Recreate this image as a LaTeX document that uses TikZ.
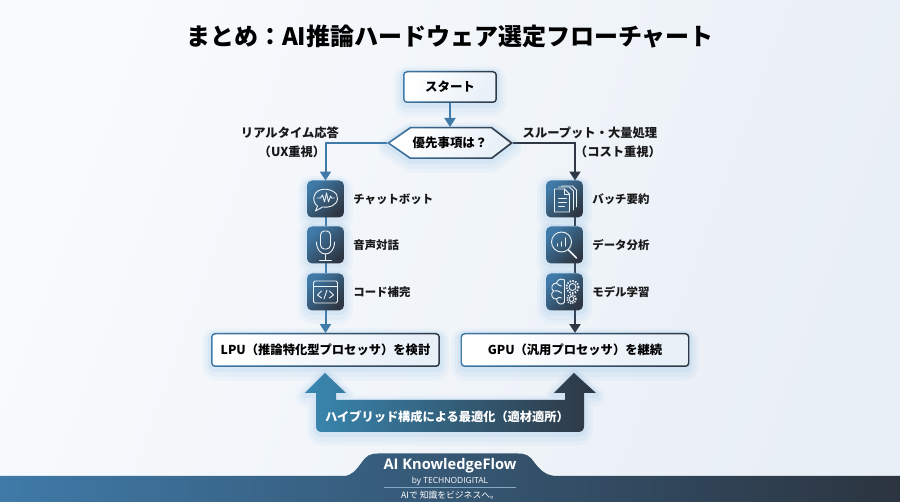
\documentclass[tikz,border=0pt]{standalone}
\usepackage{fontspec}
\setmainfont{Noto Sans CJK JP}
\newfontfamily\logofont{Open Sans}
\usetikzlibrary{arrows.meta,backgrounds}
\definecolor{flowblue}{HTML}{3F7AA8}
\definecolor{flowdark}{HTML}{2E3743}
\definecolor{flowglow}{HTML}{5B9FE0}
\definecolor{pagelight}{HTML}{F8FBFD}
\definecolor{pagetint}{HTML}{E9EFF6}
\definecolor{facetint}{HTML}{E8F0F8}
\newcommand{\px}{0.569pt}
\tikzset{
  glow/.style={
    preaction={draw=flowglow,opacity=.05,line width=18*\px,line join=round,transform canvas={yshift=-2.5pt}},
    preaction={draw=flowglow,opacity=.06,line width=12*\px,line join=round,transform canvas={yshift=-2pt}},
    preaction={draw=flowglow,opacity=.08,line width=6*\px,line join=round,transform canvas={yshift=-1pt}}},
  rim/.style={left color=flowblue,right color=flowdark,glow},
  face/.style={left color=white,right color=facetint,shading angle=60},
  flowbox/.style={rim,rectangle,rounded corners=4*\px,outer sep=0pt,inner sep=0pt},
  flowface/.style={face,rectangle,rounded corners=3*\px,outer sep=0pt,inner sep=0pt,font=\fontsize{7pt}{8pt}\selectfont\bfseries},
  hexlabel/.style={rectangle,minimum width=126*\px,minimum height=32*\px,outer sep=0pt,inner sep=0pt,font=\fontsize{7.1pt}{8pt}\selectfont\bfseries},
  tile/.style={rectangle,rounded corners=5*\px,minimum size=37*\px,inner sep=0pt,outer sep=0pt,left color=flowblue,right color=flowdark,shading angle=45,glow},
  item/.style={anchor=west,inner sep=0pt,font=\fontsize{6.5pt}{8pt}\selectfont\bfseries,text=black!90},
  branch/.style={inner sep=0pt,font=\fontsize{7pt}{8pt}\selectfont\bfseries,text=black!90},
  lefty/.style={draw=flowblue,line width=2*\px},
  righty/.style={draw=flowdark,line width=2*\px},
  tipped/.style={-{Triangle[length=9*\px,width=11*\px]}},
  glyph/.style={draw=white!90!flowblue,line width=0.9*\px,line cap=round,line join=round}
}
\begin{document}
\begin{tikzpicture}[x=0.02cm,y=-0.02cm]
  \path[use as bounding box] (0,0) rectangle (900,502);
  % Page.
  \begin{scope}[on background layer]
    \shade[left color=pagelight,right color=pagetint,shading angle=70] (0,0) rectangle (900,502);
  \end{scope}
  % Footer.
  \shade[left color=flowblue,right color=flowdark!95!black] (0,502) -- (0,476) -- (343,476) .. controls (352,476) and (356,470) .. (362,462) .. controls (366,456) and (370,453.5) .. (378,453.5) -- (518,453.5) .. controls (526,453.5) and (530,456) .. (534,462) .. controls (540,470) and (546,476) .. (557,476) -- (900,476) -- (900,502) -- cycle;
  \node[text=white,inner sep=0pt,font=\logofont\fontsize{8.35pt}{10pt}\selectfont\bfseries] (brand) at (450,466) {AI KnowledgeFlow};
  \node[text=white!90,inner sep=0pt,font=\logofont\fontsize{4.8pt}{6pt}\selectfont] (maker) at (450,481) {by TECHNODIGITAL};
  \coordinate (ruleleft) at (384,487);
  \coordinate (ruleright) at (516,487);
  \draw[white!35!flowblue,line width=0.4*\px] (ruleleft) -- (ruleright);
  \node[text=white!90,inner sep=0pt,font=\fontsize{5pt}{6pt}\selectfont] (motto) at (450,495) {AIで 知識をビジネスへ。};
  % Title.
  \node[inner sep=0pt,font=\fontsize{13.65pt}{16pt}\selectfont\bfseries] (title) at (450,37) {まとめ：AI推論ハードウェア選定フローチャート};
  % Start and question.
  \node[flowbox,minimum width=94*\px,minimum height=32*\px] (startrim) at (450,87) {};
  \node[flowface,minimum width=91*\px,minimum height=29*\px,font=\fontsize{7.1pt}{8pt}\selectfont\bfseries] (start) at (450,87) {スタート};
  \path[rim] (387,143) -- (410,127) -- (492,127) -- (513,143) -- (492,159) -- (410,159) -- cycle;
  \path[face] (390,143) -- (411,128.5) -- (491,128.5) -- (510,143) -- (491,157.5) -- (411,157.5) -- cycle;
  \node[hexlabel] (prio) at (450,143) {優先事項は？};
  \node[branch] (realtime) at (290,133) {リアルタイム応答};
  \node[branch] (ux) at (292,152) {（UX重視）};
  \node[branch] (through) at (590,133) {スループット・大量処理};
  \node[branch] (cost) at (618,152) {（コスト重視）};
  % Use cases.
  \node[tile] (chat) at (325.5,199) {};
  \node[tile] (voice) at (325.5,245) {};
  \node[tile] (code) at (325.5,292) {};
  \node[tile] (batch) at (564.5,199) {};
  \node[tile] (data) at (564.5,245) {};
  \node[tile] (model) at (564.5,292) {};
  \node[item] (chatname) at (353,199) {チャットボット};
  \node[item] (voicename) at (353,245) {音声対話};
  \node[item] (codename) at (353,292) {コード補完};
  \node[item] (batchname) at (592,199) {バッチ要約};
  \node[item] (dataname) at (592,245) {データ分析};
  \node[item] (modelname) at (592,292) {モデル学習};
  % Results.
  \node[flowbox,minimum width=229*\px,minimum height=34*\px] (lpurim) at (325.5,350) {};
  \node[flowface,minimum width=226*\px,minimum height=31*\px] (lpu) at (325.5,350) {LPU（推論特化型プロセッサ）を検討};
  \node[flowbox,minimum width=229*\px,minimum height=34*\px] (gpurim) at (575,350) {};
  \node[flowface,minimum width=226*\px,minimum height=31*\px] (gpu) at (575,350) {GPU（汎用プロセッサ）を継続};
  % Connectors.
  \begin{scope}[on background layer]
    \draw[lefty,tipped] (startrim) -- (prio);
    \draw[lefty,tipped] (prio.west) -| (chat.north);
    \draw[righty,tipped] (prio.east) -| (gpu.north |- batch.north);
    \draw[lefty] (chat) -- (voice);
    \draw[lefty] (voice) -- (code);
    \draw[lefty,tipped] (code) -- (lpurim);
    \draw[righty] (gpu.north |- batch.south) -- (gpu.north |- data.north);
    \draw[righty] (gpu.north |- data.south) -- (gpu.north |- model.north);
    \draw[righty,tipped] (gpu.north |- model.south) -- (gpurim);
  \end{scope}
  % Hybrid arrow.
  \path[glow,left color=flowblue!90!cyan,right color=flowdark] (325,373) -- (346,393) -- (336,393) -- (336,400) -- (565,400) -- (565,393) -- (554,393) -- (574,373) -- (596,393) -- (584,393) -- (584,426) .. controls (584,430) and (582,432) .. (578,432) -- (322,432) .. controls (318,432) and (316,430) .. (316,426) -- (316,393) -- (305,393) -- cycle;
  \node[text=white,inner sep=0pt,font=\fontsize{6.95pt}{8pt}\selectfont\bfseries] (hybrid) at (447,417) {ハイブリッド構成による最適化（適材適所）};
  % Icons.
  \begin{scope}[shift={(325.5,199)}]
    \draw[glyph] (-8,7) .. controls (-13,4) and (-14,-7) .. (-4,-9.5) .. controls (5,-11) and (13,-6) .. (12,0) .. controls (11,7) and (3,9) .. (-3,8) -- (-10,12) -- cycle;
    \draw[glyph] (-8,-1) -- (-5,-1) -- (-3,-4) -- (-1,3) -- (1,-6) -- (3,3) -- (5,-3) -- (6,-1) -- (9,-1);
  \end{scope}
  \begin{scope}[shift={(325.5,245)}]
    \draw[glyph,rounded corners=4*\px] (-5,-14) rectangle (5,4);
    \draw[glyph] (-9,-3) .. controls (-9,13) and (9,13) .. (9,-3);
    \draw[glyph] (0,9) -- (0,15);
    \draw[glyph] (-6,15) -- (6,15);
  \end{scope}
  \begin{scope}[shift={(325.5,292)}]
    \draw[glyph,rounded corners=1.5*\px] (-12,-11) rectangle (12,11);
    \draw[glyph] (-12,-6) -- (12,-6);
    \draw[glyph] (-4,-1) -- (-8,3) -- (-4,6);
    \draw[glyph] (4,-1) -- (8,3) -- (4,6);
    \draw[glyph] (1.5,-2) -- (-1.5,7);
  \end{scope}
  \begin{scope}[shift={(564.5,199)}]
    \draw[glyph] (-3,-13) -- (8,-13) -- (12,-9) -- (12,8);
    \draw[glyph] (-6,-12) -- (5,-12) -- (9,-8) -- (9,11);
    \draw[glyph,fill=flowblue!60!flowdark] (-10,-10) -- (0,-10) -- (5,-5) -- (5,13) -- (-10,13) -- cycle;
    \draw[glyph] (0,-10) -- (0,-5) -- (5,-5);
    \draw[glyph] (-6,-1) -- (2,-1);
    \draw[glyph] (-6,3) -- (2,3);
    \draw[glyph] (-6,7) -- (0,7);
  \end{scope}
  \begin{scope}[shift={(564.5,245)}]
    \draw[glyph] (-3,-3) circle (10);
    \draw[glyph,line width=1.6*\px] (4,5) -- (12,13);
    \draw[glyph,line width=1.4*\px] (-7,1) -- (-7,-1);
    \draw[glyph,line width=1.4*\px] (-3,1) -- (-3,-3);
    \draw[glyph,line width=1.4*\px] (1,1) -- (1,-7);
  \end{scope}
  \begin{scope}[shift={(564.5,292)}]
    \draw[glyph] (0,-12) .. controls (-5,-15) and (-8,-10) .. (-8,-9) .. controls (-13,-9) and (-14,-3) .. (-11,-1) .. controls (-15,2) and (-12,8) .. (-8,7) .. controls (-8,12) and (-2,14) .. (0,10);
    \draw[glyph] (0,-12) -- (0,10);
    \draw[glyph] (-8,-9) .. controls (-6,-7) and (-5,-6) .. (-3,-6);
    \draw[glyph] (-11,-1) .. controls (-8,-2) and (-6,-1) .. (-3,1);
    \draw[glyph] (-8,7) .. controls (-6,5) and (-5,5) .. (-3,6);
    \draw[glyph] (8,-5) circle (3.5);
    \draw[glyph,line width=1.8*\px,dash pattern=on 1.4*\px off 1.4*\px,line cap=butt] (8,-5) circle (6);
    \draw[glyph] (7,7) circle (2.5);
    \draw[glyph,line width=1.5*\px,dash pattern=on 1.2*\px off 1.2*\px,line cap=butt] (7,7) circle (4.5);
  \end{scope}
\end{tikzpicture}
\end{document}
